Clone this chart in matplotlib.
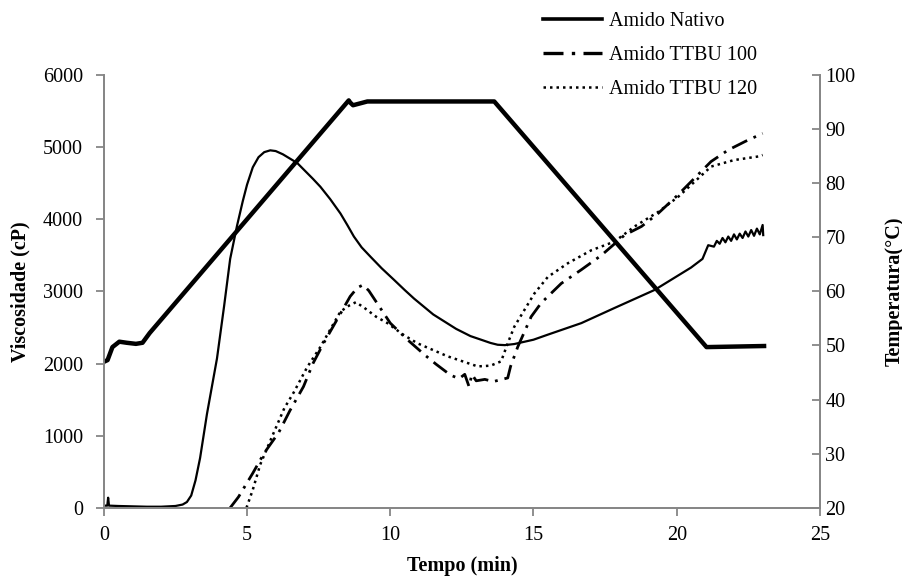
import matplotlib
matplotlib.use('Agg')
import matplotlib.pyplot as plt
from matplotlib.lines import Line2D

plt.rcParams['font.family'] = ['Liberation Serif', 'DejaVu Serif']

# Amido Nativo - viscosidade (cP)
t_nat = [0.0, 0.12, 0.15, 0.18, 0.5, 1.0, 1.5, 2.0, 2.5, 2.75, 2.9, 3.05, 3.2, 3.36,
         3.6, 3.95, 4.2, 4.41, 4.65, 4.85, 5.0, 5.2, 5.4, 5.6, 5.81, 6.0, 6.25,
         6.5, 6.75, 7.0, 7.3, 7.56, 7.9, 8.26, 8.5, 8.73, 9.0, 9.31, 9.7, 10.13,
         10.5, 10.83, 11.5, 12.3, 12.8, 13.17, 13.5, 13.75, 14.0, 14.33, 15.0, 15.5,
         16.67, 17.83, 19.23, 20.5, 20.9, 21.1, 21.3, 21.4, 21.5, 21.6, 21.7, 21.8,
         21.9, 22.0, 22.1, 22.2, 22.3, 22.4, 22.5, 22.6, 22.7, 22.8, 22.9, 23.0, 23.02]
v_nat = [30, 30, 140, 30, 25, 20, 15, 15, 25, 45, 80, 170, 380, 690,
         1300, 2070, 2800, 3450, 3910, 4250, 4480, 4720, 4860, 4930, 4955, 4945, 4900,
         4840, 4780, 4680, 4560, 4450, 4280, 4080, 3920, 3760, 3610, 3480, 3320, 3160,
         3020, 2900, 2680, 2480, 2380, 2330, 2285, 2260, 2255, 2270, 2330, 2400,
         2560, 2770, 3020, 3330, 3450, 3640, 3620, 3700, 3660, 3740, 3680, 3760,
         3700, 3790, 3720, 3800, 3740, 3830, 3760, 3850, 3770, 3870, 3790, 3920, 3780]

# Amido TTBU 100
t_100 = [4.41, 4.7, 5.2, 5.6, 6.1, 6.5, 6.97, 7.3, 7.67, 8.0, 8.3, 8.6, 8.85, 9.05,
         9.25, 9.6, 10.0, 10.6, 11.2, 11.6, 12.1, 12.4, 12.6, 12.75, 12.85, 13.0,
         13.3, 13.6, 13.9, 14.1, 14.2, 14.45, 14.92, 15.27, 15.97, 16.67, 17.37,
         18.18, 18.77, 19.35, 20.05, 20.6, 21.2, 21.8, 22.4, 23.0]
v_100 = [0, 150, 480, 760, 1040, 1350, 1680, 2000, 2280, 2510, 2720, 2930, 3050, 3090,
         3010, 2800, 2560, 2330, 2120, 1990, 1840, 1790, 1850, 1680, 1850, 1760,
         1780, 1750, 1780, 1800, 1960, 2230, 2650, 2840, 3110, 3300, 3500,
         3780, 3900, 4080, 4340, 4560, 4800, 4960, 5080, 5190]

# Amido TTBU 120
t_120 = [4.98, 5.2, 5.46, 5.93, 6.3, 6.63, 7.1, 7.56, 8.26, 8.55, 8.8, 9.1, 9.5, 9.9,
         10.45, 10.95, 12.0, 13.05, 13.5, 13.87, 14.1, 14.33, 14.68, 15.03, 15.5,
         16.2, 17.02, 17.83, 18.53, 19.35, 20.05, 21.2, 22.0, 22.85, 23.0]
v_120 = [0, 250, 600, 1040, 1380, 1600, 1950, 2230, 2720, 2800, 2850, 2770, 2650, 2560,
         2400, 2280, 2100, 1960, 1970, 2030, 2280, 2510, 2740, 2970, 3200,
         3390, 3570, 3690, 3900, 4100, 4310, 4730, 4820, 4870, 4890]

# Temperatura (°C)
t_temp = [0.05, 0.13, 0.3, 0.54, 0.8, 1.12, 1.35, 1.6, 8.55, 8.6, 8.7, 9.2, 13.63, 21.04, 23.05]
temp = [47.1, 47.3, 49.7, 50.7, 50.5, 50.3, 50.5, 52.3, 95.3, 94.9, 94.4, 95.1, 95.1, 49.7, 49.9]

gray = '#868686'
fs = 14.5

fig = plt.figure(figsize=(9.03, 5.81), dpi=100)
ax = fig.add_axes([0.115, 0.126, 0.793, 0.745])
ax2 = ax.twinx()

ax.plot(t_nat, v_nat, color='black', lw=1.6)
ax.plot(t_100, v_100, color='black', lw=2.0, linestyle=(0, (6, 2.5, 1, 2.5)))
ax.plot(t_120, v_120, color='black', lw=1.8, linestyle=(0, (1, 1.6)))
ax2.plot(t_temp, temp, color='black', lw=3.2)

ax.set_xlim(0, 25)
ax.set_ylim(0, 6000)
ax2.set_ylim(20, 100)
ax.set_xticks([0, 5, 10, 15, 20, 25])
ax.set_yticks(range(0, 6001, 1000))
ax2.set_yticks(range(20, 101, 10))

for a in (ax, ax2):
    a.spines['top'].set_visible(False)
    for s in ('left', 'right', 'bottom'):
        a.spines[s].set_color(gray)
        a.spines[s].set_linewidth(1.3)
    a.tick_params(colors=gray, labelcolor='black', labelsize=fs, width=1.3, length=6)
ax.tick_params(axis='x', pad=7)
ax.tick_params(axis='y', pad=9)
ax2.tick_params(axis='y', direction='in', pad=4)

ax.set_xlabel('Tempo (min)', fontsize=fs, fontweight='bold')
ax.set_ylabel('Viscosidade (cP)', fontsize=fs, fontweight='bold')
ax2.set_ylabel('Temperatura(°C)', fontsize=fs, fontweight='bold')
ax.xaxis.set_label_coords(0.5, -0.112)
ax.yaxis.set_label_coords(-0.102, 0.5)
ax2.yaxis.set_label_coords(1.09, 0.5)

handles = [Line2D([], [], color='black', lw=2.6),
           Line2D([], [], color='black', lw=2.4, linestyle=(0, (6, 2.5, 1, 2.5))),
           Line2D([], [], color='black', lw=1.8, linestyle=(0, (1, 1.6)))]
fig.legend(handles, ['Amido Nativo', 'Amido TTBU 100', 'Amido TTBU 120'],
           loc='upper left', bbox_to_anchor=(0.59, 0.996), frameon=False,
           fontsize=fs, handlelength=2.95, handletextpad=0.35, labelspacing=0.72,
           borderpad=0)

fig.savefig('out.png', dpi=100)
